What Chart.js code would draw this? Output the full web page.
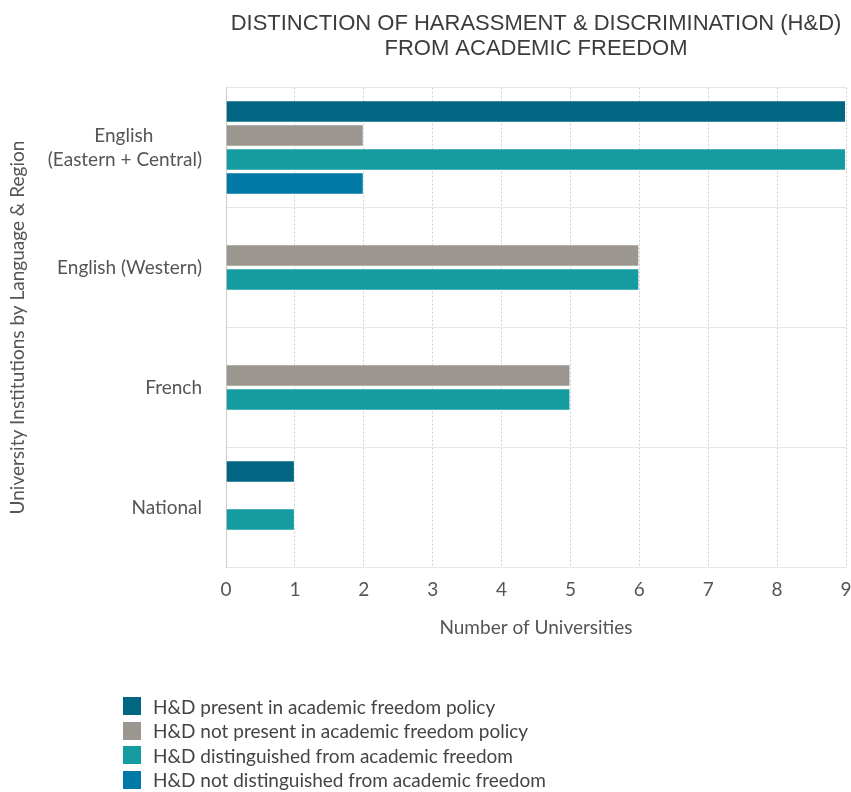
<!DOCTYPE html>
<html>
<head>
<meta charset="utf-8">
<script src="https://cdn.jsdelivr.net/npm/chart.js@4"></script>
<style>
  body { margin: 0; background: #fff; overflow: hidden; }
  #wrap { position: relative; width: 851px; height: 792px; }
  #myChart { display: block; }
  #legend { position: absolute; left: 123px; top: 694px; font-family: Lato, sans-serif; font-size: 19px; color: #444; }
  .item { display: flex; align-items: center; height: 24.5px; }
  .box { width: 18px; height: 18px; margin-right: 12px; }
</style>
</head>
<body>
<div id="wrap">
  <canvas id="myChart" width="851" height="792"></canvas>
  <div id="legend"></div>
</div>
<script>
// data
const categories = [['English', '(Eastern + Central)'], 'English (Western)', 'French', 'National'];
const seriesNames = [
    'H&D present in academic freedom policy',
    'H&D not present in academic freedom policy',
    'H&D distinguished from academic freedom',
    'H&D not distinguished from academic freedom'
];
const present = [9, null, null, 1];
const notPresent = [2, 6, 5, null];
const distinguished = [9, 6, 5, 1];
const notDistinguished = [2, null, null, null];
const xTicks = [0, 1, 2, 3, 4, 5, 6, 7, 8, 9];

const colors = ['#006682', '#9b9690', '#149ca1', '#0079a6'];
const labelFont = { family: 'Lato, sans-serif', size: 19, lineHeight: 1.25 };

// center the lines of a multi-line label by padding the short ones with spaces
const measureCtx = document.createElement('canvas').getContext('2d');
measureCtx.font = '19px Lato, sans-serif';
function centerLines(label) {
    if (!Array.isArray(label)) return label;
    let widest = Math.max(...label.map(l => measureCtx.measureText(l).width));
    let sp = measureCtx.measureText(' ').width;
    return label.map(l => {
        let n = Math.round((widest - measureCtx.measureText(l).width) / 2 / sp);
        return l + ' '.repeat(n);
    });
}

let allSeries = [present, notPresent, distinguished, notDistinguished];
let datasets = [];
for (let i = 0; i < allSeries.length; i++) {
    datasets.push({
        label: seriesNames[i],
        data: allSeries[i],
        backgroundColor: colors[i],
        borderColor: 'rgba(255,255,255,0.3)',
        borderWidth: 1,
        categoryPercentage: 0.8,
        barPercentage: 0.94
    });
}

let ctx = document.getElementById('myChart').getContext('2d');
let myChart = new Chart(ctx, {
    type: 'bar',
    data: {
        labels: categories,
        datasets: datasets
    },
    options: {
        indexAxis: 'y',
        responsive: false,
        animation: false,
        layout: { padding: { top: 11, right: 5, bottom: 152, left: 0 } },
        plugins: {
            legend: { display: false },
            tooltip: { enabled: false },
            title: {
                display: true,
                fullSize: false,
                text: ['DISTINCTION OF HARASSMENT & DISCRIMINATION (H&D)', 'FROM ACADEMIC FREEDOM'],
                color: '#3c3c3c',
                font: { family: '"Liberation Sans Narrow", "Liberation Sans", sans-serif', size: 22, weight: 'normal', lineHeight: 1.15 },
                padding: { top: 0, bottom: 26 }
            }
        },
        scales: {
            x: {
                min: 0,
                max: 9,
                afterBuildTicks: function(axis) {
                    axis.ticks = xTicks.map(v => ({ value: v }));
                },
                afterFit: function(axis) { axis.paddingRight = 5; },
                grid: { color: '#cfcfcf', drawTicks: false },
                border: { display: false, dash: [2, 2] },
                ticks: { color: '#555', font: labelFont, padding: 10 },
                title: {
                    display: true,
                    text: 'Number of Universities',
                    color: '#555',
                    font: labelFont,
                    padding: { top: 5, bottom: 0 }
                }
            },
            y: {
                grid: { color: '#e6e6e6', drawTicks: false },
                border: { display: true, color: '#cccccc', width: 1 },
                afterFit: function(axis) { axis.width = 226; },
                ticks: {
                    color: '#555',
                    font: labelFont,
                    padding: 24,
                    callback: function(value) { return centerLines(this.getLabelForValue(value)); }
                },
                title: {
                    display: true,
                    text: 'University Institutions by Language & Region',
                    color: '#555',
                    font: labelFont,
                    padding: { top: 6, bottom: 0 }
                }
            }
        }
    }
});

// html legend, one item per row
let legend = document.getElementById('legend');
myChart.data.datasets.forEach(ds => {
    let row = document.createElement('div');
    row.className = 'item';
    row.innerHTML = '<span class="box" style="background:' + ds.backgroundColor + '"></span>' + ds.label.replace(/&/g, '&amp;');
    legend.appendChild(row);
});
</script>
</body>
</html>
